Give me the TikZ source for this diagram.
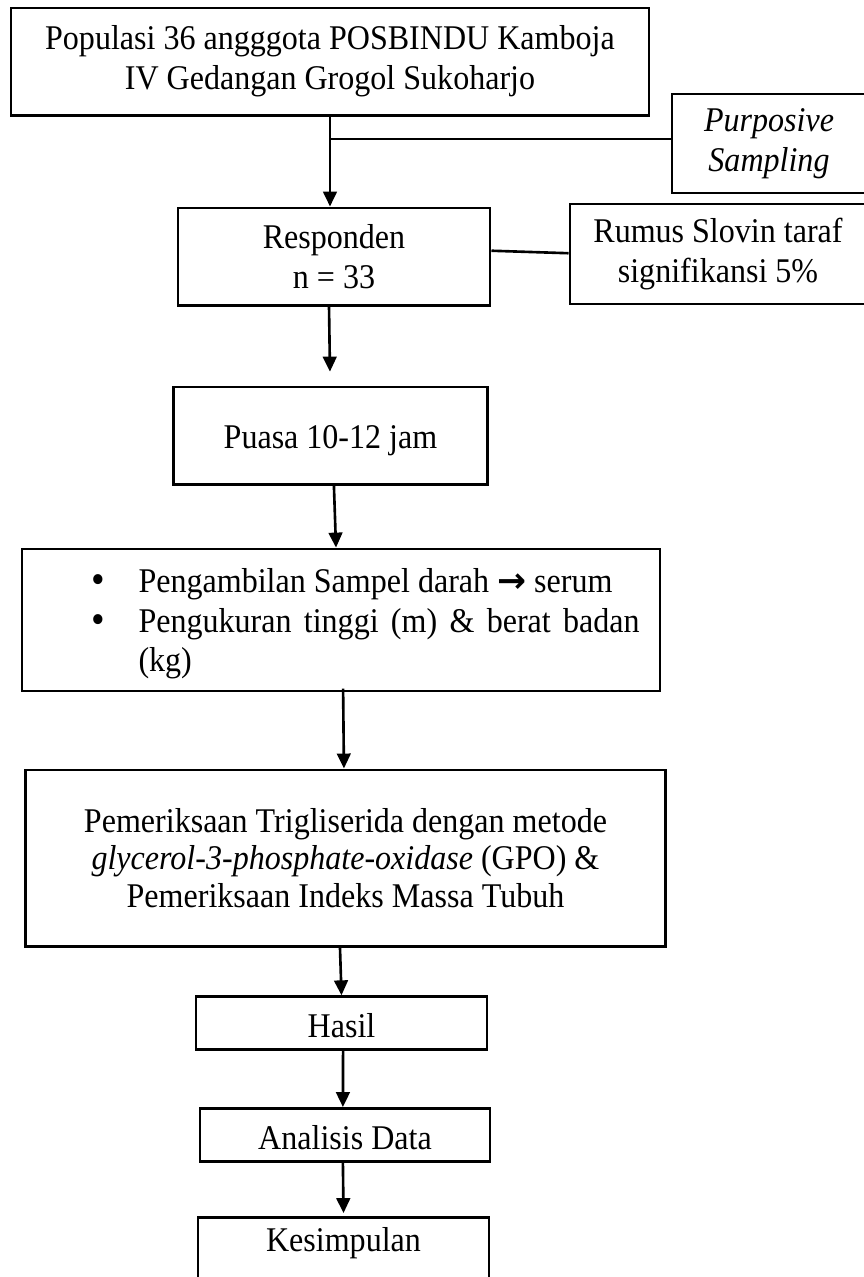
\documentclass[tikz,border=0pt]{standalone}
\usepackage{fontspec}
\setmainfont{Liberation Serif}[FakeStretch=0.925]
\newfontfamily\arrowfont{DejaVu Sans}
\usetikzlibrary{arrows.meta}
\begin{document}
\begin{tikzpicture}[x=0.381pt, y=-0.381pt,
  txt/.style={font=\fontsize{13.2pt}{15.24pt}\selectfont},
  box/.style={txt, draw, line width=1.1pt, inner sep=0pt, align=center},
  single/.style={text height=13pt, text depth=2pt},
  conn/.style={line width=1pt},
  arr/.style={line width=1pt, -{Triangle[length=5.7pt,width=5.2pt]}},
  plain/.style={txt, inner sep=0pt, anchor=base west},
  bul/.style={inner sep=0pt, anchor=base, font=\fontsize{16pt}{16pt}\selectfont}]
\useasboundingbox (0,0) rectangle (864,1277);

\node[box, minimum width=243.1pt, minimum height=40.8pt] (pop) at (330,61.5)
  {Populasi 36 angggota POSBINDU Kamboja\\IV Gedangan Grogol Sukoharjo};
\node[box, minimum width=73.9pt, minimum height=37.7pt] (purp) at (769,143.5)
  {\textit{Purposive}\\\textit{Sampling}};
\node[box, minimum width=118.9pt, minimum height=37.0pt] (resp) at (334,256.5)
  {Responden\\n = 33};
\node[box, minimum width=112.8pt, minimum height=38.1pt] (rumus) at (718,254)
  {Rumus Slovin taraf\\signifikansi 5\%};
\node[box, text height=12pt, text depth=2pt, minimum width=119.3pt, minimum height=37.0pt] (puasa) at (330.5,435.5)
  {Puasa 10-12 jam};
\node[box, minimum width=243.1pt, minimum height=54.1pt] (samp) at (341,620) {};
\node[bul] (b1) at (98,593) {•};
\node[plain] (t1) at (138,592) {Pengambilan Sampel darah {\arrowfont\bfseries →} serum};
\node[bul] (b2) at (98,633) {•};
\node[plain] (t2) at (138,632) {\makebox[190.9pt][s]{Pengukuran tinggi (m) \& berat badan}};
\node[plain] (t3) at (138,671) {(kg)};
\node[box, minimum width=243.5pt, minimum height=67.1pt,
  font=\fontsize{13.2pt}{14.3pt}\selectfont] (periksa) at (345.5,858)
  {Pemeriksaan Trigliserida dengan metode\\\textit{glycerol-3-phosphate-oxidase} (GPO) \&\\Pemeriksaan Indeks Massa Tubuh};
\node[box, single, minimum width=110.9pt, minimum height=20pt] (hasil) at (341.5,1023) {Hasil};
\node[box, single, minimum width=110.5pt, minimum height=20.2pt] (analisis) at (345,1135) {Analisis Data};
\node[box, minimum width=110.9pt, text height=13pt, text depth=46pt, anchor=north] (kes) at (343.5,1216) {Kesimpulan};

\draw[arr] (pop.south) -- (pop.south |- resp.north);
\draw[conn] ([yshift=1.7pt]purp.west) -- ([yshift=1.7pt]purp.west -| pop.south);
\draw[conn] ([yshift=2.2pt]resp.east) -- ([yshift=0.3pt]rumus.west);
\draw[arr] ([xshift=-1.9pt]resp.south) -- ([xshift=-0.2pt,yshift=5.3pt]puasa.north);
\draw[arr] ([xshift=1.3pt]puasa.south) -- ([xshift=-1.9pt]samp.north);
\draw[arr] ([xshift=0.8pt,yshift=1.5pt]samp.south) -- ([xshift=-0.6pt]periksa.north);
\draw[arr] ([xshift=-2.1pt]periksa.south) -- (hasil.north);
\draw[arr] ([xshift=0.6pt]hasil.south) -- ([xshift=-0.8pt]analisis.north);
\draw[arr] ([xshift=-0.8pt]analisis.south) -- ([yshift=1.1pt]kes.north);
\end{tikzpicture}
\end{document}
